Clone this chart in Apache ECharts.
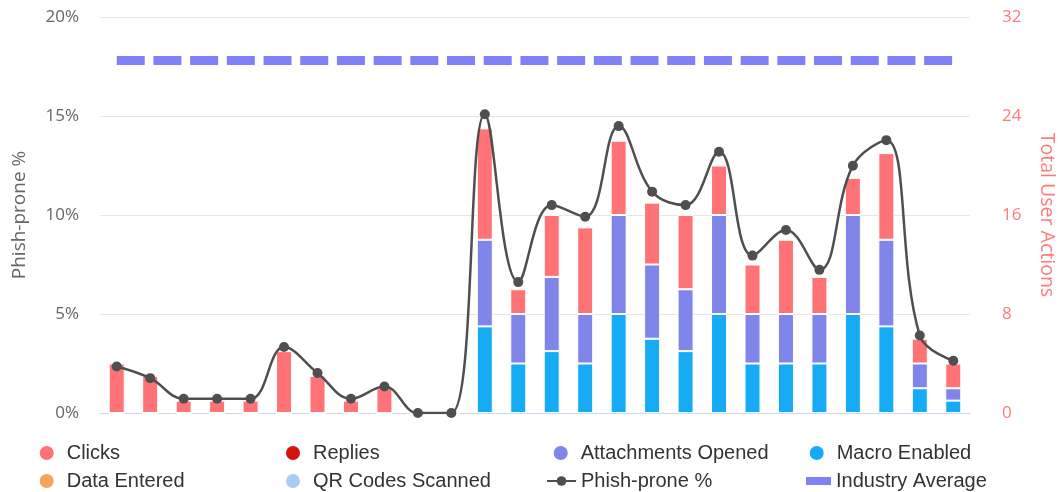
<!DOCTYPE html>
<html>
<head>
<meta charset="utf-8">
<script src="https://cdn.jsdelivr.net/npm/echarts@6/dist/echarts.min.js"></script>
<style>
  html, body { margin: 0; padding: 0; background: #fff; }
  #chart { width: 1058px; height: 492px; }
</style>
</head>
<body>
<div id="chart"></div>
<script>
const categories = ['1','2','3','4','5','6','7','8','9','10','11','12','13','14','15','16','17','18','19','20','21','22','23','24','25','26'];
const macroEnabled = [0,0,0,0,0,0,0,0,0,0,0,7,4,5,4,8,6,5,8,4,4,4,8,7,2,1];
const attachmentsOpened = [0,0,0,0,0,0,0,0,0,0,0,7,4,6,4,8,6,5,8,4,4,4,8,7,2,1];
const clicks = [4,3,1,1,1,5,3,1,2,0,0,9,2,5,7,6,5,6,4,4,6,3,3,7,2,2];
const replies = [];
const dataEntered = [];
const qrCodesScanned = [];
const phishPronePct = [2.35,1.76,0.72,0.72,0.72,3.33,2.02,0.72,1.34,0,0,15.09,6.61,10.5,9.91,14.49,11.18,10.5,13.19,7.95,9.24,7.23,12.49,13.78,3.91,2.64];
const industryAverage = 17.8;
const leftTicks = { min: 0, max: 20, interval: 5 };
const rightTicks = { min: 0, max: 32, interval: 8 };

const chart = echarts.init(document.getElementById('chart'), null, { renderer: 'canvas' });

const legendText = { fontFamily: 'Liberation Sans', fontSize: 20, color: '#333' };
function legendItem(name, left, rowCenter, icon, w, h) {
  return {
    orient: 'horizontal', itemWidth: w, itemHeight: h, padding: 0,
    left: left, top: rowCenter - 11, height: 22,
    textStyle: legendText, inactiveColor: '#ccc',
    data: [icon ? { name: name, icon: icon } : { name: name }]
  };
}
const row1 = 454, row2 = 482;

const barCommon = {
  type: 'bar', stack: 'actions', yAxisIndex: 1, barWidth: 16
};

chart.setOption({
  animation: false,
  backgroundColor: '#fff',
  grid: { left: 100, right: 88, top: 17, bottom: 79, containLabel: false, outerBoundsMode: 'none' },
  legend: [
    legendItem('Clicks', 37.7, row1, 'circle', 30, 16),
    legendItem('Data Entered', 37.7, row2, 'circle', 30, 16),
    legendItem('Replies', 284, row1, 'circle', 30, 16),
    legendItem('QR Codes Scanned', 284, row2, 'circle', 30, 16),
    legendItem('Attachments Opened', 551.7, row1, 'circle', 30, 16),
    legendItem('Phish-prone %', 546, row2, null, 29, 12),
    legendItem('Macro Enabled', 807.7, row1, 'circle', 30, 16),
    legendItem('Industry Average', 806, row2, 'rect', 25, 8)
  ],
  xAxis: {
    type: 'category', data: categories, boundaryGap: true,
    axisLine: { lineStyle: { color: '#ccd6eb', width: 1 } },
    axisTick: { show: false }, axisLabel: { show: false }
  },
  yAxis: [
    {
      type: 'value', min: leftTicks.min, max: leftTicks.max, interval: leftTicks.interval,
      name: 'Phish-prone %', nameLocation: 'middle', nameGap: 71,
      nameTextStyle: { fontFamily: 'Open Sans', fontSize: 19, color: '#666' },
      axisLabel: { formatter: '{value}%', fontFamily: 'Open Sans', fontSize: 17, color: '#666', margin: 21 },
      axisLine: { show: false }, axisTick: { show: false },
      splitLine: { lineStyle: { color: '#e6e6e6', width: 1 } }
    },
    {
      type: 'value', min: rightTicks.min, max: rightTicks.max, interval: rightTicks.interval, position: 'right',
      name: 'Total User Actions', nameLocation: 'middle', nameGap: 67, nameRotate: -90,
      nameTextStyle: { fontFamily: 'Open Sans', fontSize: 19.5, color: '#ff7b7b' },
      axisLabel: { fontFamily: 'Open Sans', fontSize: 17, color: '#ff7b7b', margin: 32 },
      axisLine: { show: false }, axisTick: { show: false },
      splitLine: { show: false }
    }
  ],
  series: [
    Object.assign({}, barCommon, { name: 'Macro Enabled', data: macroEnabled, itemStyle: { color: '#17aaf5', borderColor: '#fff', borderWidth: 1 } }),
    Object.assign({}, barCommon, { name: 'Attachments Opened', data: attachmentsOpened, itemStyle: { color: '#8085e9', borderColor: '#fff', borderWidth: 1 } }),
    Object.assign({}, barCommon, { name: 'Replies', data: replies, itemStyle: { color: '#d6130c', borderColor: '#fff', borderWidth: 1 } }),
    Object.assign({}, barCommon, { name: 'Data Entered', data: dataEntered, itemStyle: { color: '#f7a35c', borderColor: '#fff', borderWidth: 1 } }),
    Object.assign({}, barCommon, { name: 'QR Codes Scanned', data: qrCodesScanned, itemStyle: { color: '#a9cdf2', borderColor: '#fff', borderWidth: 1 } }),
    Object.assign({}, barCommon, { name: 'Clicks', data: clicks, itemStyle: { color: '#ff7377', borderColor: '#fff', borderWidth: 1 } }),
    {
      name: 'Phish-prone %', type: 'line', yAxisIndex: 0, data: phishPronePct,
      smooth: 0.4, symbol: 'circle', symbolSize: 10, z: 5,
      lineStyle: { color: '#4f4f4f', width: 2.5 }, itemStyle: { color: '#4f4f4f' }
    },
    {
      name: 'Industry Average', type: 'line', yAxisIndex: 0,
      data: [[categories[0], industryAverage], [categories[categories.length - 1], industryAverage]],
      showSymbol: false, symbol: 'none', z: 4,
      lineStyle: { color: '#8080f7', width: 9, type: [28, 8.7], cap: 'butt' },
      itemStyle: { color: '#8080f7' }
    }
  ]
});
</script>
</body>
</html>
